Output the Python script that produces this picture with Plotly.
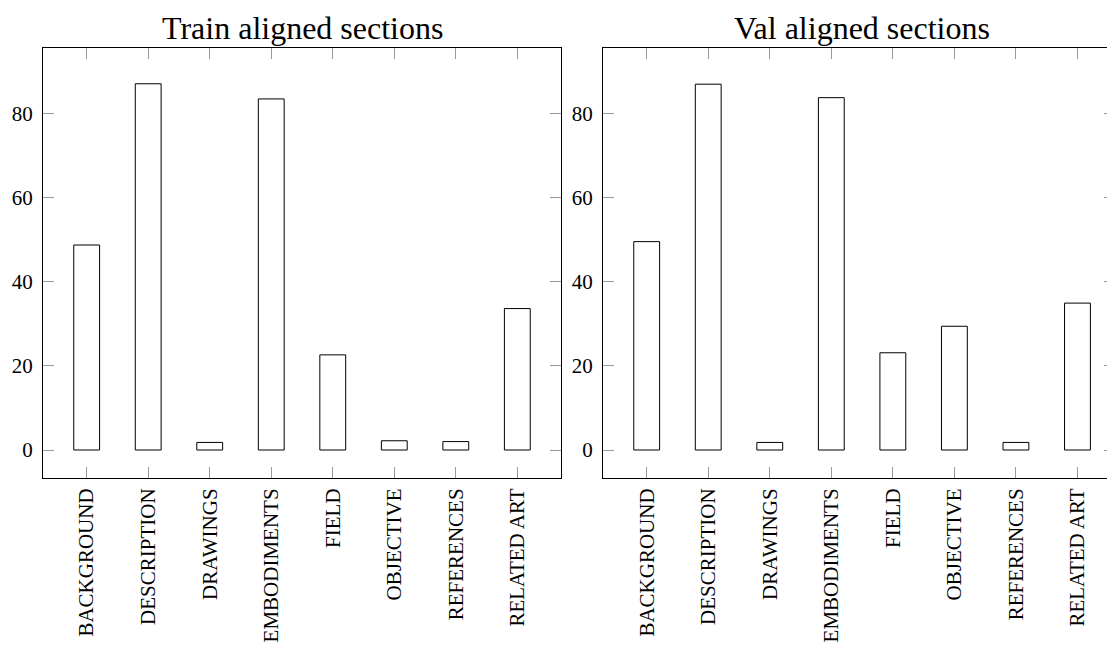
import plotly.graph_objects as go

categories = ["BACKGROUND", "DESCRIPTION", "DRAWINGS", "EMBODIMENTS",
              "FIELD", "OBJECTIVE", "REFERENCES", "RELATED ART"]
train_values = [48.7, 87.0, 1.8, 83.4, 22.6, 2.2, 2.0, 33.6]
val_values = [49.5, 86.9, 1.8, 83.7, 23.1, 29.4, 1.8, 34.9]
titles = ["Train aligned sections", "Val aligned sections"]
y_ticks = [0, 20, 40, 60, 80]

# page body adds an 8px offset, so figure is 8px smaller and coords shifted
OFF = 8
W, H = 1115 - OFF, 648 - OFF
FONT = "Liberation Serif"

fig = go.Figure()
fig.add_trace(go.Bar(x=categories, y=train_values, xaxis="x", yaxis="y",
                     width=0.42, marker=dict(color="white", line=dict(color="black", width=1)),
                     showlegend=False))
fig.add_trace(go.Bar(x=categories, y=val_values, xaxis="x2", yaxis="y2",
                     width=0.42, marker=dict(color="white", line=dict(color="black", width=1)),
                     showlegend=False))

def px(x):
    return (x - OFF) / W

def py(y):
    return 1 - (y - OFF) / H

ydom = [py(478), py(48)]
common_x = dict(type="category", showline=True, linecolor="black", linewidth=1, mirror="ticks",
                ticks="inside", ticklen=11, tickcolor="#9a9a9a", tickwidth=1,
                tickangle=-90, showgrid=False, zeroline=False, ticklabelstandoff=1,
                automargin=False,
                tickfont=dict(family=FONT, size=21, color="black"))
common_y = dict(showline=True, linecolor="black", linewidth=1, mirror="ticks",
                ticks="inside", ticklen=11, tickcolor="#9a9a9a", tickwidth=1,
                tickvals=y_ticks, range=[-6.65, 95.5], showgrid=False, zeroline=False,
                ticklabelstandoff=5, automargin=False,
                tickfont=dict(family=FONT, size=21, color="black"))

fig.update_layout(
    width=W, height=H,
    margin=dict(l=0, r=0, t=0, b=0, autoexpand=False),
    paper_bgcolor="white", plot_bgcolor="white",
    xaxis=dict(domain=[px(43), px(561)], anchor="y", range=[-0.71, 7.71], **common_x),
    yaxis=dict(domain=ydom, anchor="x", **common_y),
    xaxis2=dict(domain=[px(603), 1.0], anchor="y2", range=[-0.71, 7.61], **common_x),
    yaxis2=dict(domain=ydom, anchor="x2", **common_y),
    annotations=[
        dict(text=titles[0], x=px((43 + 561) / 2), y=py(28), xref="paper", yref="paper",
             xanchor="center", yanchor="middle", showarrow=False,
             font=dict(family=FONT, size=32, color="black")),
        dict(text=titles[1], x=px((603 + 1121) / 2), y=py(28), xref="paper", yref="paper",
             xanchor="center", yanchor="middle", showarrow=False,
             font=dict(family=FONT, size=32, color="black")),
    ],
)

fig.write_html("out.html")
